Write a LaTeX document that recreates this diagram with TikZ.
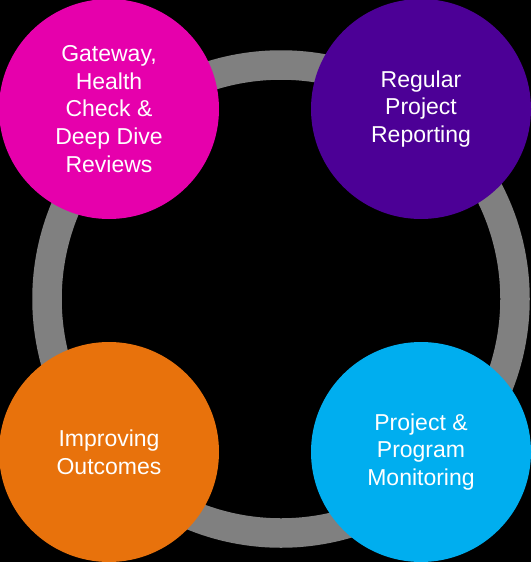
\documentclass[tikz,border=0pt]{standalone}
\usepackage{fontspec}
\setmainfont{Liberation Sans}
\definecolor{cmagenta}{RGB}{230,0,172}
\definecolor{cpurple}{RGB}{76,0,150}
\definecolor{corange}{RGB}{232,114,12}
\definecolor{cblue}{RGB}{0,174,239}
\definecolor{cring}{RGB}{128,128,128}
\tikzset{
  bubble/.style={circle, minimum size=220pt, inner sep=0pt, text=white, align=center,
    font=\fontsize{23}{27.7}\selectfont},
}
\begin{document}
\begin{tikzpicture}[x=1pt,y=-1pt]
\fill[black] (0,0) rectangle (531,562);
\useasboundingbox (0,0) rectangle (531,562);
\draw[cring, line width=29.5pt] (281,299) circle (234pt);
\node[bubble, fill=cmagenta] (gateway) at (109,109) {Gateway,\\Health\\Check \&\\Deep Dive\\Reviews};
\node[bubble, fill=cpurple] (reporting) at (421,109) {Regular\\Project\\Reporting};
\node[bubble, fill=corange] (improving) at (109,452) {Improving\\Outcomes};
\node[bubble, fill=cblue] (monitoring) at (421,452) {Project \&\\Program\\Monitoring};
\end{tikzpicture}
\end{document}
